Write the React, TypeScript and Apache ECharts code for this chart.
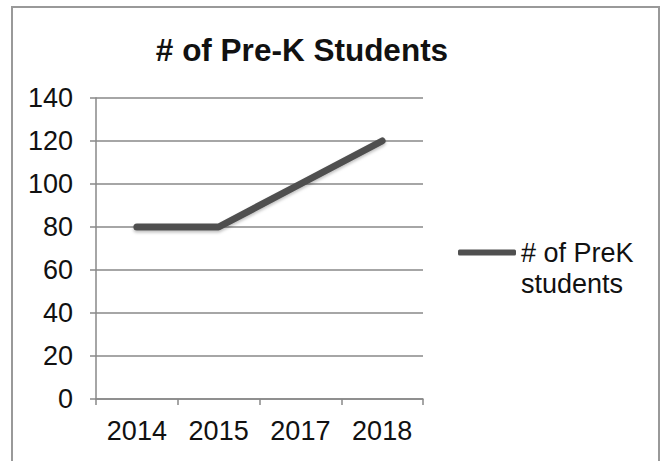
import React, { useEffect, useRef } from "react";
import * as echarts from "echarts";

const titleText = "# of Pre-K Students";
const categories = ["2014", "2015", "2017", "2018"];
const seriesName = "# of PreK students";
const legendLines = ["# of PreK", "students"];
const values = [80, 80, 100, 120];
const yMin = 0;
const yMax = 140;
const yStep = 20;

export default function App() {
  const ref = useRef<HTMLDivElement>(null);
  useEffect(() => {
    if (!ref.current) return;
    const chart = echarts.init(ref.current, null, { renderer: "svg" });
    const font = "'Liberation Sans', Arial, sans-serif";
    chart.setOption({
      animation: false,
      backgroundColor: "#ffffff",
      title: {
        text: titleText,
        left: 297,
        top: 29,
        textAlign: "center",
        textStyle: { fontFamily: font, fontSize: 31.5, fontWeight: "bold", color: "#111" },
      },
      grid: { left: 96, right: 243, top: 98, bottom: 62 },
      legend: {
        left: 458,
        top: 208,
        padding: 0,
        itemWidth: 58,
        itemHeight: 6,
        icon: "roundRect",
        itemStyle: { color: "#505050" },
        formatter: () => `{e| }\n{t|${legendLines[0]}}\n{t|${legendLines[1]}}`,
        textStyle: {
          fontFamily: font,
          fontSize: 27,
          color: "#111",
          rich: {
            e: { fontFamily: font, fontSize: 27, lineHeight: 31 },
            t: { fontFamily: font, fontSize: 27, lineHeight: 31, color: "#111" },
          },
        },
        data: [seriesName],
      },
      xAxis: {
        type: "category",
        data: categories,
        boundaryGap: true,
        axisLine: { lineStyle: { color: "#888", width: 1.5 } },
        axisTick: { show: true, length: 6, lineStyle: { color: "#888", width: 1.5 } },
        axisLabel: { fontFamily: font, fontSize: 27, color: "#111", margin: 18 },
      },
      yAxis: {
        type: "value",
        min: yMin,
        max: yMax,
        interval: yStep,
        axisLine: { show: true, lineStyle: { color: "#888", width: 1.5 } },
        axisTick: { show: true, length: 6, lineStyle: { color: "#888", width: 1.5 } },
        axisLabel: { fontFamily: font, fontSize: 27, color: "#111", margin: 23 },
        splitLine: { lineStyle: { color: "#888", width: 1.5 } },
      },
      series: [
        {
          name: seriesName,
          type: "line",
          data: values,
          showSymbol: false,
          symbol: "none",
          color: "#505050",
          lineStyle: {
            color: "#505050",
            width: 7,
            cap: "round",
            shadowColor: "rgba(0,0,0,0.25)",
            shadowBlur: 3,
            shadowOffsetY: 2,
          },
        },
      ],
      graphic: [
        {
          type: "rect",
          shape: { x: 12, y: 7, width: 647, height: 470 },
          style: { fill: "none", stroke: "#999", lineWidth: 2 },
          silent: true,
        },
      ],
    });
    return () => chart.dispose();
  }, []);
  return (
    <div
      ref={ref}
      style={{ position: "fixed", left: 0, top: 0, width: 666, height: 461 }}
    />
  );
}
